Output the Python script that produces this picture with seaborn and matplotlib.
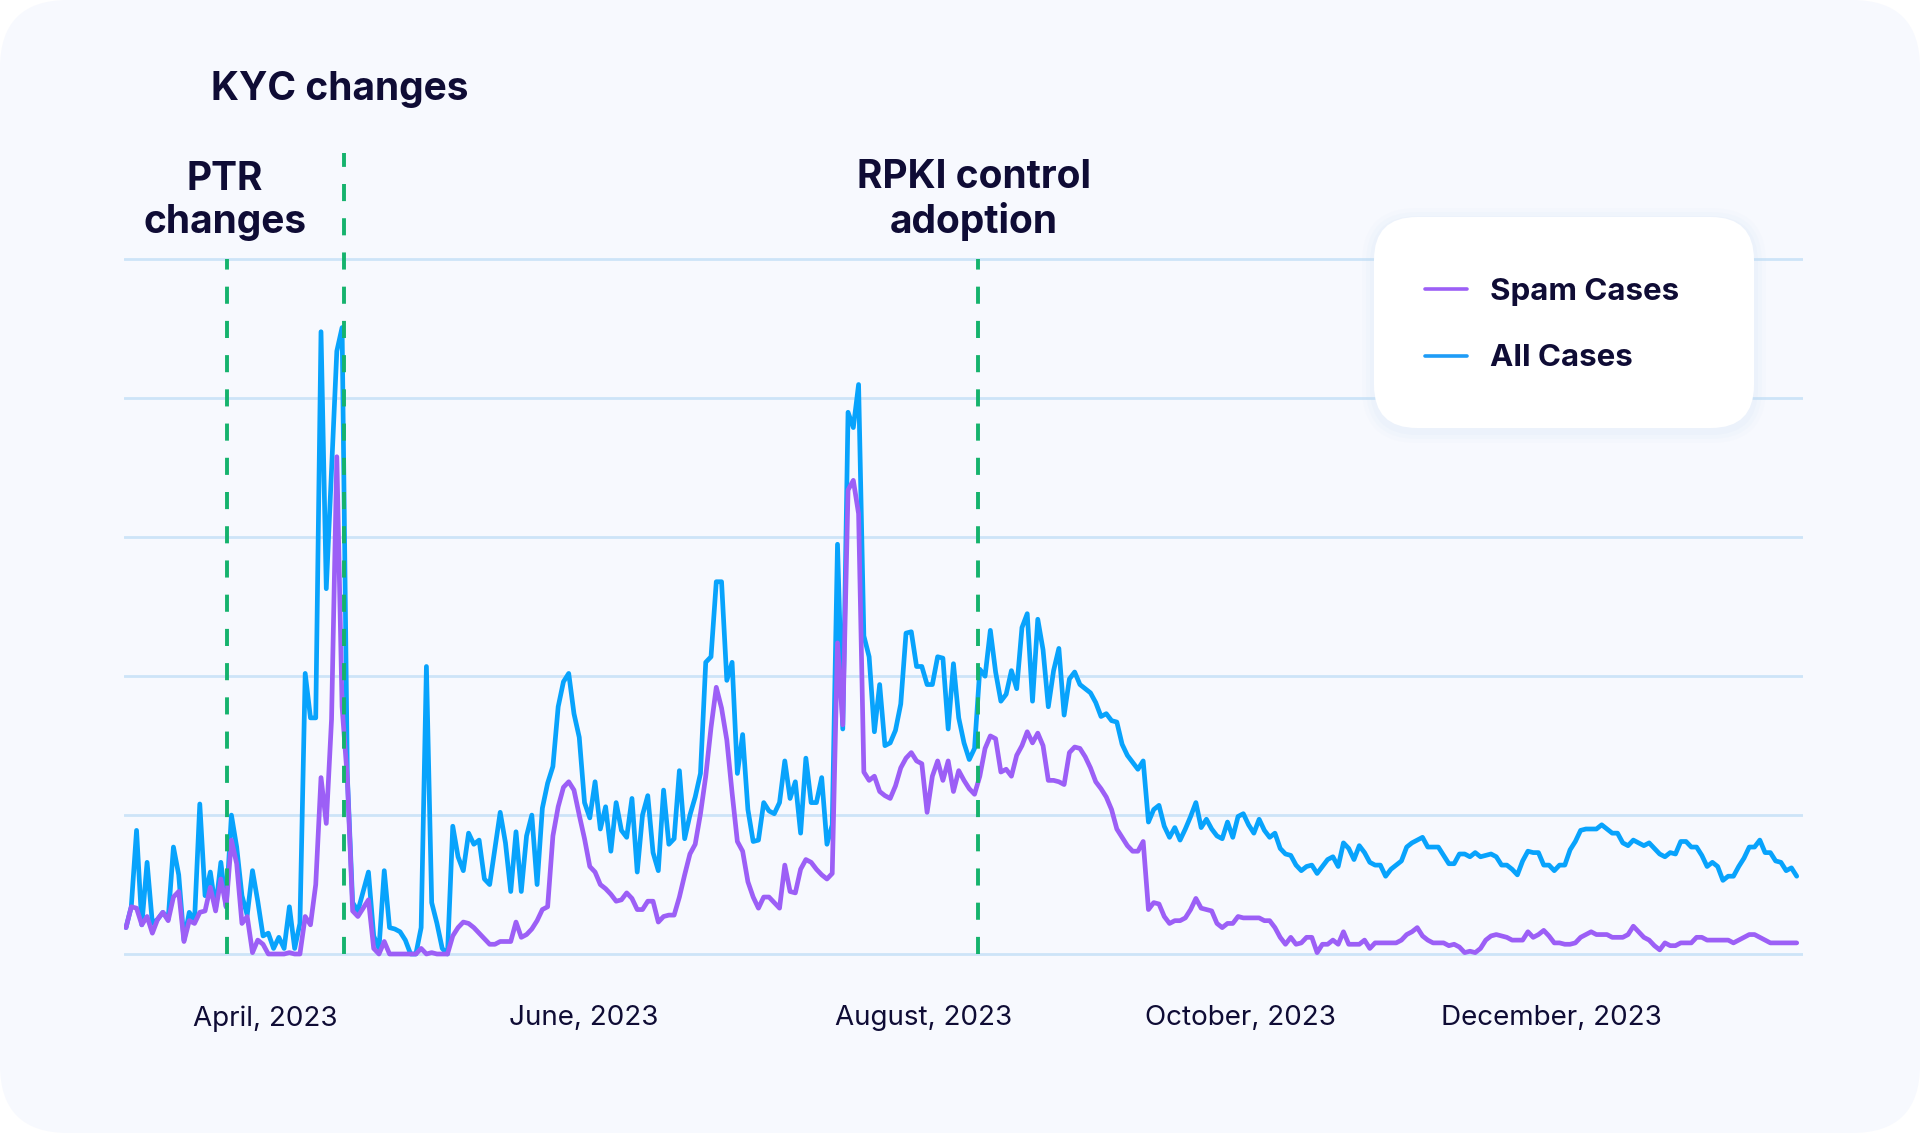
import matplotlib
matplotlib.use('Agg')
import matplotlib.pyplot as plt
from matplotlib.patches import FancyBboxPatch
from matplotlib.lines import Line2D
import seaborn as sns
import pandas as pd

# ── Data (daily case counts) ─────────────────────────────
START = '2023-03-06'

all_cases = [
    19, 34, 89, 21, 66, 22, 25, 30, 25, 77,
    57, 10, 30, 24, 108, 42, 59, 33, 66, 34,
    100, 77, 42, 28, 60, 38, 13, 15, 4, 12,
    4, 34, 4, 22, 202, 170, 170, 448, 263, 349,
    434, 451, 128, 37, 31, 45, 59, 13, 4, 60,
    19, 18, 16, 10, 0, 0, 19, 207, 37, 22,
    4, 0, 92, 70, 60, 87, 79, 82, 54, 50,
    76, 102, 80, 45, 88, 45, 85, 100, 50, 105,
    123, 135, 178, 196, 202, 173, 156, 109, 98, 124,
    90, 106, 74, 109, 89, 84, 112, 59, 100, 114,
    73, 60, 118, 79, 83, 132, 83, 100, 113, 130,
    210, 214, 268, 268, 197, 210, 130, 158, 104, 81,
    82, 109, 103, 101, 109, 139, 112, 124, 87, 141,
    109, 109, 127, 79, 93, 295, 162, 390, 379, 410,
    229, 214, 160, 194, 150, 152, 161, 180, 231, 232,
    207, 207, 194, 194, 214, 213, 162, 209, 170, 152,
    140, 148, 205, 200, 233, 203, 182, 187, 204, 191,
    235, 245, 182, 241, 219, 178, 204, 220, 172, 198,
    203, 194, 191, 188, 181, 171, 173, 168, 167, 151,
    143, 138, 133, 139, 95, 104, 107, 92, 84, 91,
    82, 90, 99, 109, 91, 97, 90, 85, 83, 95,
    84, 99, 101, 93, 87, 97, 89, 84, 87, 76,
    72, 71, 64, 60, 63, 64, 58, 63, 68, 70,
    63, 80, 76, 68, 78, 73, 66, 64, 64, 56,
    61, 64, 67, 77, 80, 82, 84, 77, 77, 77,
    71, 65, 65, 72, 72, 70, 73, 70, 71, 72,
    70, 64, 64, 61, 57, 67, 74, 73, 73, 64,
    64, 60, 64, 64, 75, 81, 89, 90, 90, 90,
    93, 90, 87, 87, 80, 78, 82, 80, 78, 80,
    76, 72, 70, 73, 72, 81, 81, 77, 77, 71,
    63, 66, 63, 53, 56, 56, 63, 69, 77, 77,
    82, 73, 73, 67, 66, 60, 62, 56,
]

spam_cases = [
    19, 34, 33, 21, 27, 15, 25, 30, 24, 41,
    45, 9, 24, 22, 30, 31, 48, 31, 54, 34,
    82, 65, 22, 27, 1, 10, 7, 0, 0, 0,
    0, 1, 0, 0, 27, 21, 50, 127, 94, 169,
    358, 178, 126, 31, 27, 33, 39, 4, 0, 9,
    0, 0, 0, 0, 0, 0, 4, 0, 1, 0,
    0, 0, 13, 19, 23, 22, 19, 15, 11, 7,
    7, 9, 9, 9, 23, 12, 14, 18, 24, 32,
    34, 85, 106, 120, 124, 118, 100, 83, 63, 59,
    50, 47, 43, 38, 39, 44, 40, 32, 32, 38,
    38, 23, 27, 28, 28, 41, 57, 72, 79, 101,
    128, 163, 192, 177, 154, 116, 81, 74, 52, 41,
    33, 41, 41, 37, 33, 64, 45, 44, 61, 68,
    66, 61, 57, 54, 58, 224, 165, 334, 341, 317,
    131, 125, 128, 117, 114, 112, 121, 134, 141, 145,
    139, 137, 102, 128, 139, 125, 139, 117, 132, 125,
    119, 115, 128, 148, 157, 155, 131, 133, 128, 143,
    150, 160, 152, 159, 150, 125, 125, 124, 122, 145,
    149, 148, 142, 134, 124, 119, 113, 104, 90, 84,
    78, 74, 74, 81, 32, 37, 36, 27, 22, 24,
    24, 26, 32, 40, 33, 32, 31, 22, 19, 22,
    22, 27, 26, 26, 26, 26, 24, 24, 19, 12,
    7, 12, 7, 8, 12, 12, 1, 7, 7, 10,
    7, 16, 7, 7, 7, 10, 4, 8, 8, 8,
    8, 8, 10, 14, 16, 19, 13, 10, 8, 8,
    8, 6, 7, 5, 1, 2, 1, 4, 10, 13,
    14, 13, 12, 10, 10, 10, 16, 12, 14, 17,
    13, 8, 8, 7, 7, 8, 12, 14, 16, 14,
    14, 14, 12, 12, 12, 14, 20, 16, 12, 10,
    6, 3, 8, 6, 6, 8, 8, 8, 12, 12,
    10, 10, 10, 10, 10, 8, 10, 12, 14, 14,
    12, 10, 8, 8, 8, 8, 8, 8,
]

tick_dates = ['2023-04-01 09:00', '2023-05-31 22:00', '2023-08-04 10:00',
              '2023-10-03 10:00', '2023-12-01 10:00']
tick_labels = ['April, 2023', 'June, 2023', 'August, 2023',
               'October, 2023', 'December, 2023']

event_dates = ['2023-03-25 02:00', '2023-04-16 10:00', '2023-08-14 17:00']
event_tops = [500, 577, 500]

# ── Design tokens ───────────────────────────────────────
CARD = '#f7f9fe'
GRID = '#cde4f8'
SPAM = '#9c5ff6'
ALLC = '#08a3fc'
GREEN = '#15b36d'
INK = '#0f0c35'

sns.set_style('white')
plt.rcParams['font.family'] = ['Inter', 'DejaVu Sans']

W, H = 1920, 1133
fig = plt.figure(figsize=(W / 100, H / 100), dpi=100, facecolor='white')
inch = fig.dpi_scale_trans


def px(x, y):
    """image pixel (from top-left) -> inches from bottom-left"""
    return x / 100, (H - y) / 100


# outer rounded card
fig.add_artist(FancyBboxPatch((0, 0), W / 100, H / 100,
                              boxstyle='round,pad=0,rounding_size=0.68',
                              transform=inch, fc=CARD, ec='none', zorder=-10))

# axes: value 0 at y=954px, 100 units = 138.9px
YMIN, YMAX = -15, 510
ax_bottom = 954 + 15 * 1.389
ax_top = 954 - 510 * 1.389
ax = fig.add_axes([123.7 / W, 1 - ax_bottom / H, (1802.5 - 123.7) / W,
                   (ax_bottom - ax_top) / H])
ax.set_facecolor('none')

dates = pd.date_range(START, periods=len(all_cases), freq='D')
df = pd.DataFrame({'date': dates, 'All Cases': all_cases,
                   'Spam Cases': spam_cases})

sns.lineplot(data=df, x='date', y='All Cases', ax=ax, color=ALLC, lw=3.4,
             solid_joinstyle='round', solid_capstyle='round', zorder=3)
sns.lineplot(data=df, x='date', y='Spam Cases', ax=ax, color=SPAM, lw=3.4,
             solid_joinstyle='round', solid_capstyle='round', zorder=4)

for d, top in zip(event_dates, event_tops):
    t = pd.Timestamp(d)
    ax.plot([t, t], [0, top], color=GREEN, lw=2.8, ls=(0, (4.4, 4.4)),
            clip_on=False, zorder=5)

start = pd.Timestamp(START)
ax.set_xlim(start - pd.Timedelta(hours=10.5), start + pd.Timedelta(days=318.1))
ax.set_ylim(YMIN, YMAX)
ax.set_yticks(range(0, 501, 100))
ax.set_yticklabels([])
ax.grid(axis='y', color=GRID, lw=2, zorder=0)
ax.grid(axis='x', visible=False)
ax.set_xticks(pd.to_datetime(tick_dates))
ax.set_xticklabels(tick_labels)
ax.tick_params(axis='both', length=0)
ax.tick_params(axis='x', pad=22, labelsize=20, labelcolor=INK)
ax.set_xlabel('')
ax.set_ylabel('')
for s in ax.spines.values():
    s.set_visible(False)

# annotations (y = baseline of the last line)
fig.text(340 / W, 1 - 100 / H, 'KYC changes', ha='center', va='baseline',
         fontsize=28, fontweight='bold', color=INK)
fig.text(225 / W, 1 - 233 / H, 'PTR\nchanges', ha='center', va='baseline',
         fontsize=28, fontweight='bold', color=INK, linespacing=1.2,
         multialignment='center')
fig.text(974 / W, 1 - 233 / H, 'RPKI control\nadoption', ha='center',
         va='baseline', fontsize=28, fontweight='bold', color=INK,
         linespacing=1.2, multialignment='center')

# legend card with soft shadow
lx0, ly0 = px(1374, 428)
for i, a in enumerate([0.05, 0.07, 0.10]):
    g = (3 - i) * 0.04
    fig.add_artist(FancyBboxPatch((lx0 - g, ly0 - g - 0.03), 3.80 + 2 * g,
                                  2.11 + 2 * g,
                                  boxstyle=f'round,pad=0,rounding_size={0.43 + g}',
                                  transform=inch, fc='#c9dcf6', ec='none',
                                  alpha=a, zorder=6))
fig.add_artist(FancyBboxPatch((lx0, ly0), 3.80, 2.11,
                              boxstyle='round,pad=0,rounding_size=0.43',
                              transform=inch, fc='white', ec='none', zorder=7))

for name, col, yl, yb in [('Spam Cases', SPAM, 289, 300),
                          ('All Cases', '#1e9cf7', 355.5, 366)]:
    x1, y1 = px(1425, yl)
    x2, _ = px(1467, yl)
    fig.add_artist(Line2D([x1, x2], [y1, y1], transform=inch, color=col,
                          lw=2.6, solid_capstyle='round', zorder=8))
    fig.text(1490 / W, 1 - yb / H, name, ha='left', va='baseline',
             fontsize=22.5, fontweight='bold', color=INK, zorder=8)

fig.savefig('out.png', dpi=100, facecolor='white')
